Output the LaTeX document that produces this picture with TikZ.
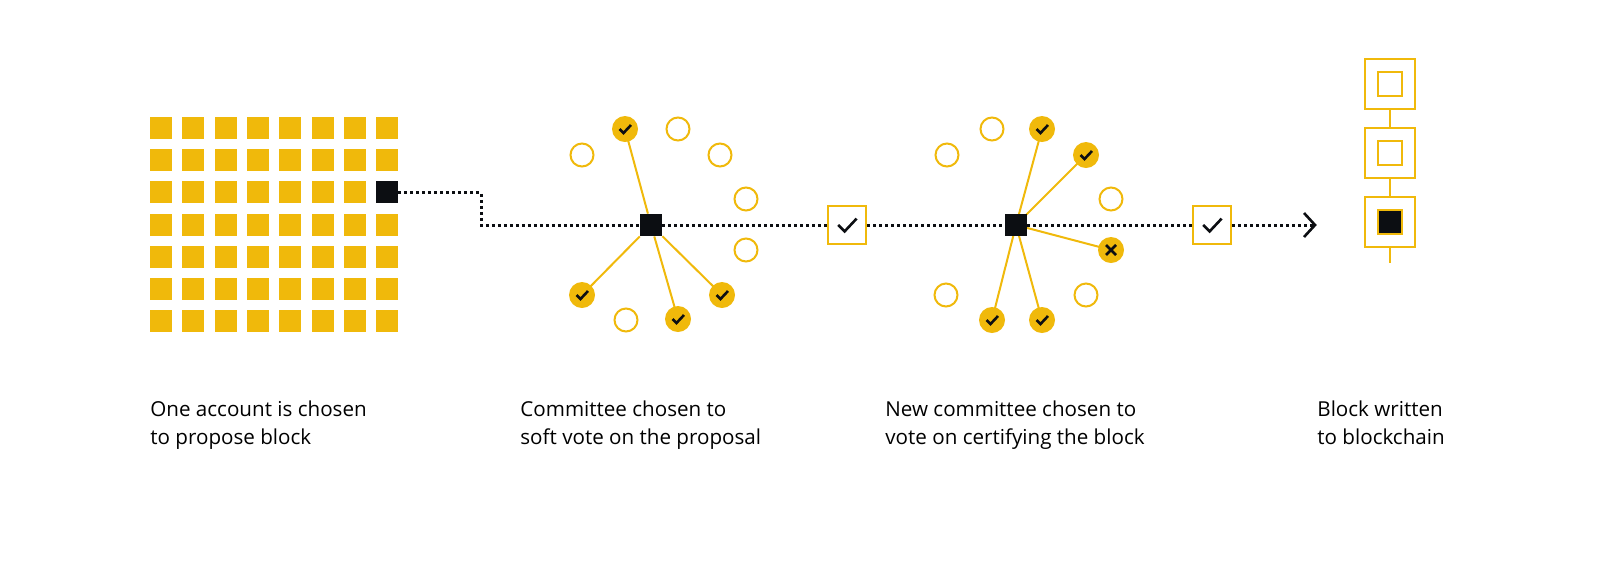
\documentclass[tikz,border=0pt]{standalone}
\usepackage{fontspec}
\setmainfont{Open Sans}
\usetikzlibrary{calc}
\definecolor{gold}{HTML}{F0B90B}
\definecolor{ink}{HTML}{0C0E12}
\newcommand{\tick}[2][1]{\draw[ink,line width=1.3pt] ($(#2)+(-5.5*#1,0)$) -- ($(#2)+(-1.5*#1,4*#1)$) -- ($(#2)+(6*#1,-4*#1)$);}
\begin{document}
\begin{tikzpicture}[x=0.5pt,y=-0.5pt,
    acct/.style={fill=gold,minimum size=11pt,inner sep=0pt},
    lead/.style={fill=ink,minimum size=11pt,inner sep=0pt},
    idle/.style={circle,draw=gold,line width=1pt,minimum size=11.5pt,inner sep=0pt},
    voter/.style={circle,fill=gold,minimum size=13pt,inner sep=0pt},
    vote/.style={draw=gold,line width=1pt,minimum size=19pt,inner sep=0pt},
    spoke/.style={gold,line width=1pt},
    flow/.style={ink,line width=1.5pt,dash pattern=on 1.5pt off 1.5pt},
    caption/.style={align=left,anchor=north west,font=\fontsize{10.3}{14}\selectfont,inner sep=0pt}]
\useasboundingbox (0,0) rectangle (1600,564);
% proposer grid
\foreach \i in {0,...,7}
  \foreach \j in {0,...,6}
    \node[acct] (a\i\j) at ({161+32.3*\i},{128+32.2*\j}) {};
\node[lead] (P) at (387,192.4) {};
% first committee
\node[lead] (C1) at (651,225) {};
\foreach \x/\y [count=\k] in {678/129,582/155,720/155,746/199,746/250,626/320}
  \node[idle] (e\k) at (\x,\y) {};
\foreach \x/\y [count=\k] in {625/129,582/295,678/319,722/295} {
  \draw[spoke] (C1) -- (\x,\y);
  \node[voter] (v\k) at (\x,\y) {};
  \tick{v\k}
}
\node[lead] (C1) at (651,225) {};
% second committee
\foreach \x/\y [count=\k] in {992/129,947/155,1111/199,1086/295,946/295}
  \node[idle] (f\k) at (\x,\y) {};
\foreach \x/\y [count=\k] in {1042/129,1086/155,992/320,1042/320,1111/250} {
  \draw[spoke] (1016,225) -- (\x,\y);
  \node[voter] (w\k) at (\x,\y) {};
}
\foreach \k in {1,...,4} {\tick{w\k}}
\draw[ink,line width=1.3pt] ($(w5)+(-5,-5)$) -- ($(w5)+(5,5)$) ($(w5)+(5,-5)$) -- ($(w5)+(-5,5)$);
\node[lead] (C2) at (1016,225) {};
% soft and cert votes
\node[vote,fill=white] (V1) at (847,225) {};
\tick[1.6]{V1}
\node[vote,fill=white] (V2) at (1212,225) {};
\tick[1.6]{V2}
\coordinate (bend) at (481,192.4);
\coordinate (tip) at (1315,225);
\draw[flow] (P) -- (bend) -- (bend|-C1) -- (C1) -- (V1) -- (C2) -- (V2);
\draw[flow] (V2) -- (tip);
\draw[ink,line width=1.3pt] (1304,213) -- (tip) -- (1304,237);
% blockchain
\foreach \y [count=\k] in {84,153,222}
  \node[draw=gold,line width=1.2pt,minimum size=25pt,inner sep=0pt] (b\k) at (1390,\y) {};
\node[draw=gold,line width=1.2pt,minimum size=12pt,inner sep=0pt] (i1) at (b1) {};
\node[draw=gold,line width=1.2pt,minimum size=12pt,inner sep=0pt] (i2) at (b2) {};
\node[draw=gold,fill=ink,line width=1.2pt,minimum size=12pt,inner sep=0pt] (i3) at (b3) {};
\coordinate (tail) at (1390,263);
\draw[gold,line width=1.2pt] (b1) -- (b2) (b2) -- (b3) (b3) -- (tail);
% captions
\node[caption] (t1) at (150,400) {One account is chosen\\to propose block};
\node[caption] (t2) at (520,400) {Committee chosen to\\soft vote on the proposal};
\node[caption] (t3) at (885,400) {New committee chosen to\\vote on certifying the block};
\node[caption] (t4) at (1317,400) {Block written\\to blockchain};
\end{tikzpicture}
\end{document}
